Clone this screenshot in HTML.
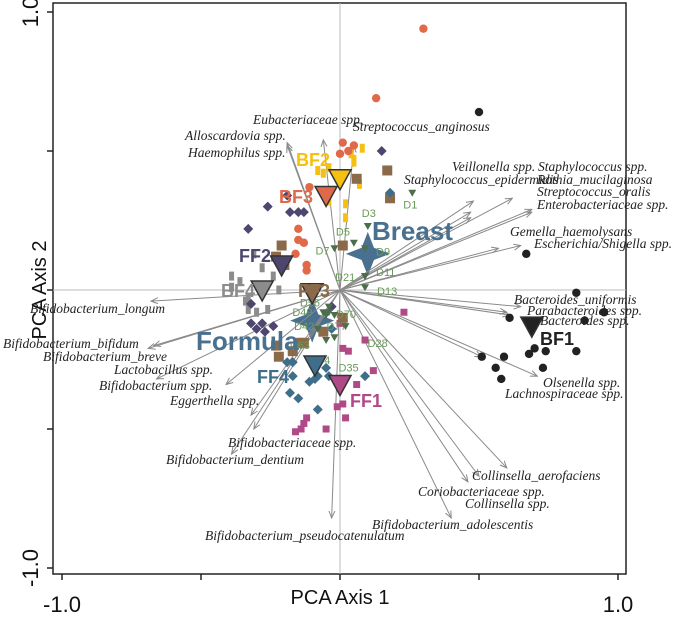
<!DOCTYPE html>
<html><head><meta charset="utf-8"><style>
html,body{margin:0;padding:0;background:#fff;}
svg{display:block;}
.sp{font-family:"Liberation Serif",serif;font-style:italic;font-size:13.5px;fill:#222;}
.gl{font-family:"Liberation Sans",sans-serif;font-weight:bold;font-size:18px;}
.dl{font-family:"Liberation Sans",sans-serif;font-size:11px;fill:#6a9a5a;}
.ax{font-family:"Liberation Sans",sans-serif;fill:#111;}
</style></head><body>
<svg id="chart" width="675" height="617" viewBox="0 0 675 617" xmlns="http://www.w3.org/2000/svg">
<defs><marker id="ah" markerWidth="8" markerHeight="8" refX="7" refY="4" orient="auto" markerUnits="userSpaceOnUse"><path d="M0,1 L7,4 L0,7" fill="none" stroke="#888" stroke-width="1"/></marker></defs>
</svg>
<script>
// ---- data ----
const bf1 = [[0.50,0.64],[0.67,0.13],[0.85,-0.01],[0.95,-0.08],[0.88,-0.11],[0.61,-0.10],[0.70,-0.21],[0.68,-0.23],[0.74,-0.22],[0.85,-0.22],[0.51,-0.24],[0.59,-0.24],[0.56,-0.28],[0.73,-0.28],[0.58,-0.32]];
const bf2 = [[0.08,0.51],[0.04,0.49],[-0.08,0.43],[-0.06,0.42],[-0.04,0.44],[0.07,0.38],[-0.04,0.32],[0.02,0.31],[0.02,0.26],[0.05,0.47],[0.05,0.46]];
const bf3 = [[0.30,0.94],[0.13,0.69],[0.01,0.53],[0.05,0.52],[0.00,0.49],[-0.11,0.37],[-0.15,0.22],[-0.15,0.18],[-0.13,0.17],[-0.16,0.13],[-0.12,0.09],[-0.12,0.07],[0.03,0.50]];
const bf4 = [[-0.28,0.08],[-0.24,0.05],[-0.39,0.05],[-0.39,0.01],[-0.22,0.00],[-0.34,-0.04],[-0.26,-0.07],[-0.33,-0.07],[-0.30,-0.08],[-0.33,-0.03],[-0.31,0.13],[-0.36,0.03]];
const ff1 = [[0.23,-0.08],[0.09,-0.18],[0.01,-0.21],[0.03,-0.22],[0.00,-0.12],[0.12,-0.29],[0.06,-0.34],[-0.01,-0.42],[0.01,-0.41],[0.02,-0.46],[-0.05,-0.50],[-0.12,-0.46],[-0.13,-0.48],[-0.14,-0.50],[-0.16,-0.51]];
const ff2 = [[0.15,0.50],[-0.19,0.34],[-0.26,0.30],[-0.18,0.28],[-0.15,0.28],[-0.13,0.28],[-0.33,0.22],[-0.05,0.33],[-0.32,-0.05],[-0.03,-0.06],[-0.32,-0.12],[-0.28,-0.12],[-0.24,-0.13],[-0.30,-0.14],[-0.27,-0.15]];
const ff3 = [[0.17,0.43],[0.06,0.40],[0.18,0.33],[0.01,0.16],[-0.21,0.16],[-0.23,0.12],[-0.20,0.09],[0.01,-0.10],[-0.06,-0.15],[-0.14,-0.19],[-0.13,-0.19],[-0.23,-0.20],[-0.17,-0.22],[-0.22,-0.24]];
const ff4 = [[0.18,0.35],[-0.03,-0.14],[-0.19,-0.26],[-0.17,-0.26],[-0.17,-0.31],[-0.18,-0.37],[-0.15,-0.39],[-0.11,-0.33],[-0.09,-0.32],[-0.08,-0.31],[-0.05,-0.28],[-0.04,-0.31],[-0.08,-0.43],[0.09,-0.31]];
const groupNames = ["BF1","BF2","BF3","BF4","FF1","FF2","FF3","FF4"];
const centroids = [[0.69,-0.13],[0.00,0.40],[-0.05,0.34],[-0.28,0.00],[0.00,-0.34],[-0.21,0.09],[-0.10,-0.01],[-0.09,-0.27]];
const dNames = ["D1","D3","D5","D9","D7","D21","D11","D13","D56","D49","D70","D42","D77","D63","D84","D35","D28"];
const dVals = [[0.26,0.35],[0.10,0.23],[0.05,0.17],[0.09,0.15],[-0.02,0.15],[0.09,0.05],[0.09,0.05],[0.09,0.01],[-0.04,-0.06],[-0.06,-0.08],[-0.04,-0.08],[-0.05,-0.09],[-0.02,-0.09],[-0.08,-0.14],[-0.05,-0.18],[-0.02,-0.17],[0.02,-0.13]];
const species = ["Alloscardovia spp.","Haemophilus spp.","Eubacteriaceae spp.","Streptococcus_anginosus","Veillonella spp.","Staphylococcus_epidermidis","Staphylococcus spp.","Rothia_mucilaginosa","Streptococcus_oralis","Enterobacteriaceae spp.","Gemella_haemolysans","Escherichia/Shigella spp.","Bacteroides_uniformis","Parabacteroides spp.","Bacteroides spp.","Olsenella spp.","Lachnospiraceae spp.","Collinsella_aerofaciens","Collinsella spp.","Coriobacteriaceae spp.","Bifidobacterium_adolescentis","Bifidobacterium_pseudocatenulatum","Bifidobacteriaceae spp.","Bifidobacterium_dentium","Bifidobacterium_longum","Bifidobacterium_bifidum","Bifidobacterium_breve","Lactobacillus spp.","Bifidobacterium spp.","Eggerthella spp."];
const loadings = [[-0.19,0.53],[-0.19,0.52],[-0.06,0.54],[0.05,0.52],[0.48,0.32],[0.47,0.26],[0.62,0.33],[0.47,0.28],[0.69,0.29],[0.69,0.28],[0.57,0.15],[0.65,0.16],[0.65,-0.06],[0.60,-0.08],[0.61,-0.09],[0.71,-0.31],[0.51,-0.24],[0.60,-0.64],[0.50,-0.67],[0.46,-0.69],[0.40,-0.82],[-0.03,-0.82],[-0.31,-0.50],[-0.39,-0.59],[-0.68,-0.04],[-0.69,-0.21],[-0.67,-0.20],[-0.66,-0.32],[-0.41,-0.34],[-0.32,-0.45]];
const dietNames = ["Breast","Formula"];
const dietVals = [[0.10,0.13],[-0.10,-0.11]];
const xTicks = [-1,-0.5,0,0.5,1];
const yTicks = [-1,-0.5,0,0.5,1];

// ---- layout ----
const X = v => 340 + v*278;
const Y = v => 290 - v*278;
const NS = "http://www.w3.org/2000/svg";
const svg = document.getElementById('chart');
function mk(tag, attrs, parent){ const e=document.createElementNS(NS,tag); for(const k in attrs) e.setAttribute(k,attrs[k]); (parent||svg).appendChild(e); return e; }

let e = mk('rect',{x:53,y:3,width:573,height:571,fill:'none',stroke:'#222','stroke-width':1.5});


e = mk('line',{x1:X(0),y1:3,x2:X(0),y2:574,stroke:'#bbb','stroke-width':1});


e = mk('line',{x1:53,y1:Y(0),x2:626,y2:Y(0),stroke:'#bbb','stroke-width':1});


xTicks.forEach(t=>{ const l=mk('line',{x1:X(t),y1:574,x2:X(t),y2:580,stroke:'#222','stroke-width':1.5});

 });
yTicks.forEach(t=>{ const l=mk('line',{x1:47,y1:Y(t),x2:53,y2:Y(t),stroke:'#222','stroke-width':1.5});

 });
[[-1,"-1.0"],[1,"1.0"]].forEach(([t,s])=>{ const tx=mk('text',{x:X(t),y:612,'text-anchor':'middle','font-size':22,class:'ax'}); tx.textContent=s;


const ty=mk('text',{x:0,y:0,'text-anchor':'middle','font-size':22,class:'ax',transform:`translate(38,${Y(t)}) rotate(-90)`}); ty.textContent=s;

 });
e = mk('text',{x:340,y:604,'text-anchor':'middle','font-size':20,class:'ax'}); e.textContent='PCA Axis 1';


e = mk('text',{x:0,y:0,'text-anchor':'middle','font-size':20,class:'ax',transform:'translate(46,290) rotate(-90)'}); e.textContent='PCA Axis 2';



function star(cx,cy,r){ const w=r*0.28; return `M${cx},${cy-r} L${cx+w},${cy-w} L${cx+r},${cy} L${cx+w},${cy+w} L${cx},${cy+r} L${cx-w},${cy+w} L${cx-r},${cy} L${cx-w},${cy-w} Z`; }
dietVals.forEach((d,i)=>{ const s=mk('path',{d:star(X(d[0]),Y(d[1]),22),fill:'#4a7090'});

 });

loadings.forEach((p,i)=>{ const l=mk('line',{x1:X(0),y1:Y(0),x2:X(p[0]),y2:Y(p[1]),stroke:'#8a8a8a','stroke-width':1,'marker-end':'url(#ah)'});

 });

function circ(cx,cy,col){ return mk('circle',{cx,cy,r:4.2,fill:col}); }
function sq(cx,cy,col){ return mk('rect',{x:cx-5,y:cy-5,width:10,height:10,fill:col}); }
function sqs(cx,cy,col){ return mk('rect',{x:cx-3.5,y:cy-3.5,width:7,height:7,fill:col}); }
function rect(cx,cy,col){ return mk('rect',{x:cx-2.5,y:cy-4.5,width:5,height:9,fill:col}); }
function dia(cx,cy,col){ return mk('path',{d:`M${cx},${cy-5} L${cx+5},${cy} L${cx},${cy+5} L${cx-5},${cy} Z`,fill:col}); }
const groups = [[bf1,circ,'#222222'],[bf2,rect,'#f5c010'],[bf3,circ,'#e0694a'],[bf4,rect,'#8c8c8c'],[ff1,sqs,'#b04a87'],[ff2,dia,'#4f4670'],[ff3,sq,'#8b6a4a'],[ff4,dia,'#3f6e8a']];
groups.forEach((g,gi)=>{ g[0].forEach(p=>{ const m=g[1](X(p[0]),Y(p[1]),g[2]);

 }); });

const dOff = [[-9,16],[-6,-9],[-18,-7],[11,7],[-19,6],[-30,5],[11,0],[12,8],[-29,0],[-31,4],[7,6],[-32,15],[-8,15],[-28,20],[-16,24],[4,34],[22,21]];
dVals.forEach((p,i)=>{ const cx=X(p[0]),cy=Y(p[1]);
const t=mk('path',{d:`M${cx-4},${cy-3} L${cx+4},${cy-3} L${cx},${cy+4} Z`,fill:'#4d6e4d'});


const tx=mk('text',{x:cx+dOff[i][0],y:cy+dOff[i][1],class:'dl'}); tx.textContent=dNames[i];

 });

const gcol = ['#222222','#f5c010','#e0694a','#8c8c8c','#b04a87','#4f4670','#8b6a4a','#3f6e8a'];
centroids.forEach((c,i)=>{ const cx=X(c[0]),cy=Y(c[1]);
const t=mk('path',{d:`M${cx-11},${cy-9} L${cx+11},${cy-9} L${cx},${cy+11} Z`,fill:gcol[i],stroke:'#333','stroke-width':1.5});

 });

const glPos = [[540,345],[296,166],[279,203],[221,297],[350,407],[239,262],[298,297],[257,383]];
groupNames.forEach((n,i)=>{ const t=mk('text',{x:glPos[i][0],y:glPos[i][1],class:'gl',fill:gcol[i]}); t.textContent=n;

 });

[[372,240],[196,350]].forEach((p,i)=>{ const t=mk('text',{x:p[0],y:p[1],class:'gl',fill:'#4a7090'}); t.textContent=dietNames[i];
t.style.fontSize='26px';

 });

const spPos = [[185,140],[188,157],[253,124],[353,131],[452,171],[404,184],[538,171],[537,184],[537,196],[537,209],[510,236],[534,248],[514,304],[527,315],[540,325],[543,387],[505,398],[472,480],[465,508],[418,496],[372,529],[205,540],[228,447],[166,464],[30,313],[3,348],[43,361],[114,374],[99,390],[170,405]];
species.forEach((s,i)=>{ const t=mk('text',{x:spPos[i][0],y:spPos[i][1],class:'sp'}); t.textContent=s;

 });
</script>
</body></html>
